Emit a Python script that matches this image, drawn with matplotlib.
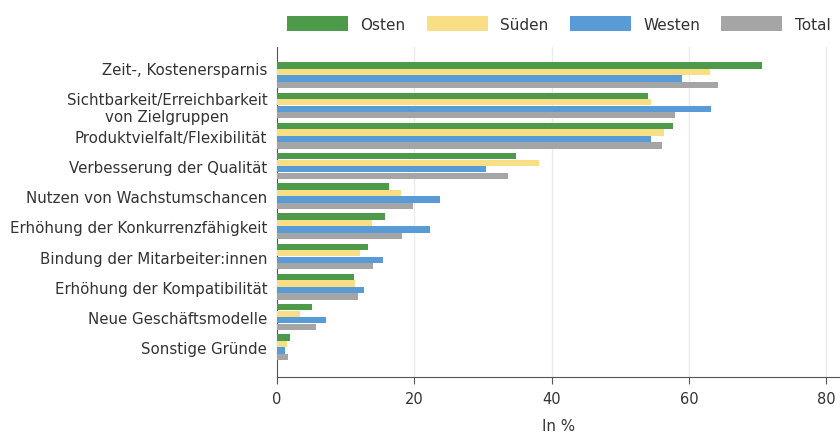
import matplotlib
matplotlib.use("Agg")
import matplotlib.pyplot as plt
import numpy as np

categories = [
    "Zeit-, Kostenersparnis",
    "Sichtbarkeit/Erreichbarkeit\nvon Zielgruppen",
    "Produktvielfalt/Flexibilität",
    "Verbesserung der Qualität",
    "Nutzen von Wachstumschancen",
    "Erhöhung der Konkurrenzfähigkeit",
    "Bindung der Mitarbeiter:innen",
    "Erhöhung der Kompatibilität",
    "Neue Geschäftsmodelle",
    "Sonstige Gründe",
]
osten = [70.6, 54.1, 57.7, 34.8, 16.3, 15.7, 13.2, 11.2, 5.1, 1.9]
sueden = [63.1, 54.4, 56.3, 38.2, 18.1, 13.8, 12.1, 11.4, 3.3, 1.5]
westen = [59.0, 63.2, 54.5, 30.5, 23.7, 22.3, 15.4, 12.6, 7.1, 1.2]
total = [64.3, 58.0, 56.1, 33.6, 19.8, 18.2, 14.0, 11.8, 5.7, 1.6]
series_names = ["Osten", "Süden", "Westen", "Total"]
colors = ["#4C9A4A", "#F8DF86", "#589BD6", "#A5A5A5"]

plt.rcParams["font.family"] = ["DejaVu Sans"]

fig = plt.figure(figsize=(8.4, 4.35), dpi=100)
ax = fig.add_axes([0.3298, 0.131, 0.6702, 0.7587])

y = np.arange(len(categories))
bar_h = 0.215
for i, (vals, name, col) in enumerate(zip([osten, sueden, westen, total], series_names, colors)):
    offset = (i - 1.5) * bar_h
    ax.barh(y + offset, vals, height=bar_h * 0.97, color=col, label=name, zorder=3)

ax.set_xlim(0, 82)
ax.set_ylim(len(categories) - 1 + 0.99, -0.94)
ax.set_xticks([0, 20, 40, 60, 80])
label_pos = y.astype(float)
label_pos[0] -= 0.23  # first label sits a bit higher in the original
ax.set_yticks(label_pos)
ax.set_yticklabels(categories, fontsize=10.8, color="#333333", multialignment="center")
ax.tick_params(axis="y", length=0, pad=7)
ax.tick_params(axis="x", length=5, color="#555555", labelsize=10.5, labelcolor="#333333", pad=5)
ax.grid(axis="x", color="#EBEBEB", linewidth=1, zorder=0)
for side in ["top", "right"]:
    ax.spines[side].set_visible(False)
ax.spines["left"].set_color("#555555")
ax.spines["bottom"].set_color("#555555")
ax.set_xlabel("In %", fontsize=10.8, color="#333333", labelpad=8.5)

fig.legend(loc="center right", bbox_to_anchor=(1.005, 0.943), ncol=4, frameon=False,
           fontsize=11, handlelength=4.0, handleheight=1.1, columnspacing=1.4,
           handletextpad=0.8, labelcolor="#333333")

fig.savefig("out.png", dpi=100)
